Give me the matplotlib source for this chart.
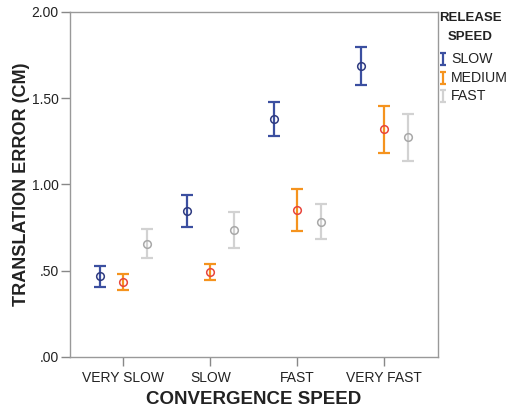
import matplotlib
matplotlib.use("Agg")
import matplotlib.pyplot as plt
import numpy as np
from matplotlib.path import Path
from matplotlib.lines import Line2D

plt.rcParams['font.family'] = ['Liberation Sans', 'DejaVu Sans']

categories = ["VERY SLOW", "SLOW", "FAST", "VERY FAST"]
series = ["SLOW", "MEDIUM", "FAST"]
means = {
    "SLOW":   [0.468, 0.846, 1.378, 1.687],
    "MEDIUM": [0.435, 0.493, 0.854, 1.320],
    "FAST":   [0.657, 0.734, 0.785, 1.275],
}
upper = {
    "SLOW":   [0.529, 0.937, 1.476, 1.797],
    "MEDIUM": [0.479, 0.537, 0.974, 1.453],
    "FAST":   [0.740, 0.839, 0.885, 1.409],
}
lower = {
    "SLOW":   [0.404, 0.755, 1.281, 1.575],
    "MEDIUM": [0.388, 0.446, 0.732, 1.184],
    "FAST":   [0.576, 0.632, 0.684, 1.138],
}
yticks = [0.0, 0.5, 1.0, 1.5, 2.0]
ytick_labels = [".00", ".50", "1.00", "1.50", "2.00"]
legend_title = ["RELEASE", "SPEED"]

bar_colors = {"SLOW": "#3b4fa0", "MEDIUM": "#f5931e", "FAST": "#d2d2d2"}
marker_colors = {"SLOW": "#2e3a80", "MEDIUM": "#e8453c", "FAST": "#a8a8a8"}
offsets = {"SLOW": -0.268, "MEDIUM": 0.0, "FAST": 0.268}

W, H = 509, 413
fig = plt.figure(figsize=(W / 100, H / 100), dpi=100)
ax = fig.add_axes([0.1375, 0.1356, 0.723, 0.8354])

x = np.arange(len(categories))
for s in series:
    m = np.array(means[s]); u = np.array(upper[s]); l = np.array(lower[s])
    ax.errorbar(x + offsets[s], m, yerr=[m - l, u - m], fmt='none',
                ecolor=bar_colors[s], elinewidth=1.6, capsize=4, capthick=1.6, zorder=2)
    ax.plot(x + offsets[s], m, 'o', markersize=5.5, markerfacecolor='none',
            markeredgecolor=marker_colors[s], markeredgewidth=1.1, zorder=3)

ax.set_xlim(-0.613, 3.617)
ax.set_ylim(0, 2.0)
ax.set_xticks(x)
ax.set_xticklabels(categories, fontsize=10, color="#222222")
ax.set_yticks(yticks)
ax.set_yticklabels(ytick_labels, fontsize=10, color="#222222")
ax.tick_params(axis='both', direction='out', length=6.2, width=1, color="#888888", pad=2)
ax.tick_params(axis='x', pad=4)
for sp in ax.spines.values():
    sp.set_color("#999999")
    sp.set_linewidth(1)
ax.set_xlabel("CONVERGENCE SPEED", fontsize=13.5, fontweight='bold', color="#222222", labelpad=4)
ax.set_ylabel("TRANSLATION ERROR (CM)", fontsize=13, fontweight='bold', color="#222222", labelpad=1)

# Legend (manual layout, pixel positions from top-left)
def fx(px): return px / W
def fy(py): return 1 - py / H

for i, t in enumerate(legend_title):
    fig.text(fx(470), fy(18 + 19 * i), t, ha='center', va='center',
             fontsize=9.5, fontweight='bold', color="#222222")

ibar = Path([(-0.5, 1), (0.5, 1), (0, 1), (0, -1), (-0.5, -1), (0.5, -1)],
            [Path.MOVETO, Path.LINETO, Path.MOVETO, Path.LINETO, Path.MOVETO, Path.LINETO])
for i, s in enumerate(series):
    yy = 59 + 18.5 * i
    fig.add_artist(Line2D([fx(443)], [fy(yy)], transform=fig.transFigure, linestyle='none',
                          marker=ibar, markersize=9, markeredgewidth=1.6,
                          markeredgecolor=bar_colors[s], markerfacecolor='none'))
    fig.text(fx(451), fy(yy), s, ha='left', va='center', fontsize=10.2, color="#222222")

fig.savefig("out.png", dpi=100)
